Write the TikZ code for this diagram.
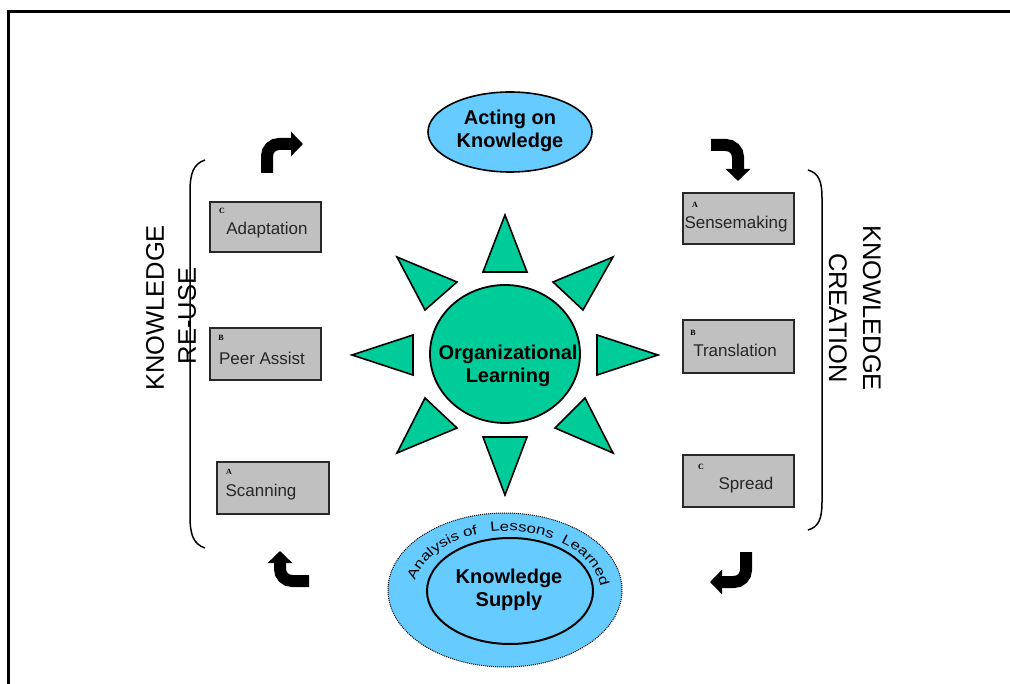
\documentclass[tikz,border=0pt]{standalone}
\usepackage{fontspec}
\setmainfont{Liberation Sans}
\newfontfamily\tinyserif{Liberation Serif}
\newfontfamily\widesans[FakeStretch=1.25]{Liberation Sans}
\usetikzlibrary{shapes.geometric,arrows.meta,decorations.text}
\definecolor{skyb}{RGB}{102,204,255}
\definecolor{sungreen}{RGB}{0,204,153}
\definecolor{boxgray}{RGB}{192,192,192}
\definecolor{boxedge}{RGB}{40,40,40}
\begin{document}
\begin{tikzpicture}[x=1pt,y=-1pt,
  stepbox/.style={draw=boxedge,fill=boxgray,line width=2pt,inner sep=0pt},
  boxtext/.style={font=\fontsize{17}{20}\selectfont,text=black!85,inner sep=0pt},
  letter/.style={font=\tinyserif\bfseries\fontsize{8}{9}\selectfont,inner sep=0pt},
  bigtext/.style={font=\bfseries\fontsize{20}{23.5}\selectfont,align=center,inner sep=0pt},
  sidetext/.style={font=\fontsize{25.5}{30}\selectfont,inner sep=0pt},
  ray/.style={fill=sungreen,draw=black,line width=1.6pt},
  turn/.style={line width=12pt,-{Triangle[length=12pt,width=24pt]},rounded corners=12pt},
  arctext/.style={decorate,decoration={text along path,text align=center,text={|\widesans\fontsize{13.5}{15}\selectfont|#1}}}
]
\useasboundingbox (0,0) rectangle (1010,684);
% frame
\draw[line width=3pt] (8,684) -- (8,12) -- (1010,12);

% top ellipse
\node[ellipse,draw=black,fill=skyb,line width=1.6pt,minimum width=164pt,minimum height=80pt,inner sep=0pt] (act) at (510,132) {};
\node[bigtext] (actt) at (510,131) {Acting on\\Knowledge};

% sun rays
\filldraw[ray] (505,215) -- (483,272) -- (527,272) -- cycle;
\filldraw[ray] (505,495) -- (483,437) -- (527,437) -- cycle;
\filldraw[ray] (352,355) -- (413,335) -- (413,375) -- cycle;
\filldraw[ray] (658,355) -- (597,335) -- (597,375) -- cycle;
\filldraw[ray] (397,257) -- (457,282) -- (425,310) -- cycle;
\filldraw[ray] (613,257) -- (553,282) -- (583,310) -- cycle;
\filldraw[ray] (425,398) -- (457,428) -- (397,453) -- cycle;
\filldraw[ray] (585,398) -- (555,428) -- (613,453) -- cycle;

% central circle
\node[ellipse,draw=black,fill=sungreen,line width=1.8pt,minimum width=150pt,minimum height=138pt,inner sep=0pt] (ol) at (505,354) {};
\node[bigtext] (olt) at (508,366) {Organizational\\Learning};

% bottom ellipses
\node[ellipse,draw=black,densely dotted,fill=skyb,line width=1pt,minimum width=234pt,minimum height=154pt,inner sep=0pt] (ksout) at (505,590) {};
\node[ellipse,draw=black,line width=2pt,minimum width=166pt,minimum height=106pt,inner sep=0pt] (ks) at (510,591) {};
\node[bigtext] (kst) at (509,590) {Knowledge\\Supply};
\path[arctext=Analysis of]
  (507,594) ++(191:94 and 63) arc[start angle=191,end angle=253,x radius=94,y radius=63];
\path[arctext=Lessons]
  (507,594) ++(247:94 and 63) arc[start angle=247,end angle=313,x radius=94,y radius=63];
\path[arctext=Learned]
  (507,594) ++(304:94 and 63) arc[start angle=304,end angle=355,x radius=94,y radius=63];

% left boxes
\node[stepbox,minimum width=111pt,minimum height=50pt] (adap) at (265.5,227) {};
\node[letter] (adapl) at (222,211) {C};
\node[boxtext] (adapt) at (267,230) {Adaptation};
\node[stepbox,minimum width=111pt,minimum height=52pt] (peer) at (265.5,354) {};
\node[letter] (peerl) at (221,338) {B};
\node[boxtext] (peert) at (262,358) {Peer Assist};
\node[stepbox,minimum width=112pt,minimum height=52pt] (scan) at (273,488) {};
\node[letter] (scanl) at (229,472) {A};
\node[boxtext] (scant) at (261,492) {Scanning};

% right boxes
\node[stepbox,minimum width=111pt,minimum height=51pt] (sense) at (738.5,218.5) {};
\node[letter] (sensel) at (695,205) {A};
\node[boxtext] (senset) at (736,224) {Sensemaking};
\node[stepbox,minimum width=111pt,minimum height=53pt] (trans) at (738.5,346.5) {};
\node[letter] (transl) at (693,333) {B};
\node[boxtext] (transt) at (735,350) {Translation};
\node[stepbox,minimum width=111pt,minimum height=52pt] (spread) at (738.5,481) {};
\node[letter] (spreadl) at (701,467) {C};
\node[boxtext] (spreadt) at (746,485) {Spread};

% braces
\draw[line width=1.5pt] (205,160) .. controls (193,164) and (190,174) .. (190,192) -- (190,516) .. controls (190,534) and (193,544) .. (205,548);
\draw[line width=1.5pt] (808,170) .. controls (819,173) and (822,182) .. (822,198) -- (822,502) .. controls (822,518) and (819,527) .. (808,530);

% side labels
\node[sidetext,rotate=90] (reuse1) at (155,308) {KNOWLEDGE};
\node[sidetext,rotate=90] (reuse2) at (187,316) {RE-USE};
\node[sidetext,rotate=-90] (cre1) at (872,308) {KNOWLEDGE};
\node[sidetext,rotate=-90] (cre2) at (838,318) {CREATION};

% turning arrows
\coordinate (tl0) at (267,173); \coordinate (tl1) at (303,144);
\coordinate (tr0) at (711,145); \coordinate (tr1) at (738,181);
\coordinate (bl0) at (309,581); \coordinate (bl1) at (280,551);
\coordinate (br0) at (746,552); \coordinate (br1) at (710,582);
\draw[turn] (tl0) |- (tl1);
\draw[turn] (tr0) -| (tr1);
\draw[turn] (bl0) -| (bl1);
\draw[turn] (br0) |- (br1);
\end{tikzpicture}
\end{document}
